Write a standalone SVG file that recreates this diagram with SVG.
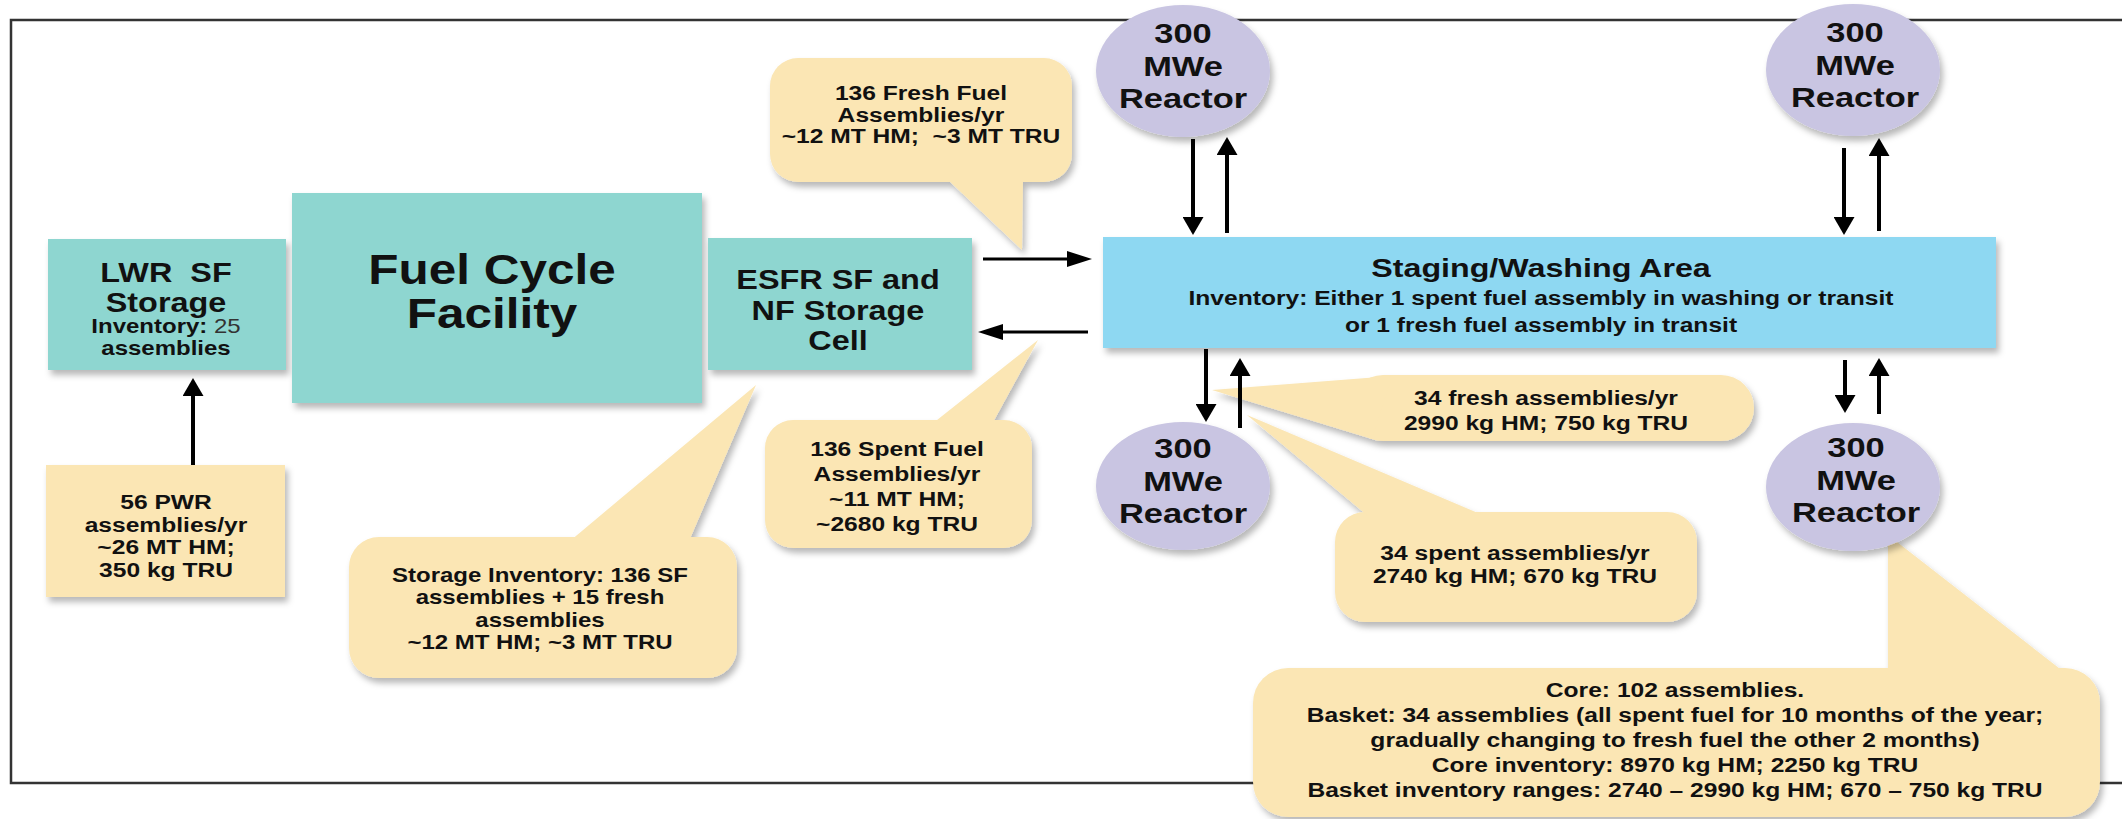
<svg xmlns="http://www.w3.org/2000/svg" width="2122" height="819" viewBox="0 0 2122 819">
<style>
.t{font-family:"Liberation Sans",Arial,Helvetica,sans-serif;font-weight:bold;fill:#111;text-anchor:middle}
.teal{fill:#8ed6d0}
.blue{fill:#8ed8f2}
.reac{fill:#c9c5e2}
.call{fill:#fbe6b4}
.frame{fill:none;stroke:#333;stroke-width:2.5}
.av{stroke:#000;stroke-width:4;fill:none;marker-end:url(#ahv)}
.ah{stroke:#000;stroke-width:3;fill:none;marker-end:url(#ahh)}
</style>
<defs>
<filter id="sh" x="-10%" y="-10%" width="125%" height="140%">
<feDropShadow dx="3" dy="5" stdDeviation="3" flood-color="#000" flood-opacity="0.28"/>
</filter>
<marker id="ahv" markerUnits="userSpaceOnUse" viewBox="0 0 18 21" markerWidth="18" markerHeight="21" refX="8" refY="10.5" orient="auto">
<path d="M0,0 L18,10.5 L0,21 Z" fill="#000"/>
</marker>
<marker id="ahh" markerUnits="userSpaceOnUse" viewBox="0 0 25 16" markerWidth="25" markerHeight="16" refX="15" refY="8" orient="auto">
<path d="M0,0 L25,8 L0,16 Z" fill="#000"/>
</marker>
</defs>
<rect width="2122" height="819" fill="#fff"/>
<path class="frame" d="M2130,20 H11 V783 H2130"/>

<g id="lwr-storage">
<rect class="teal" x="48" y="239" width="238" height="131" filter="url(#sh)"/>
<text class="t" transform="translate(166 0) scale(1.2 1)" font-size="27" xml:space="preserve"><tspan x="0" y="282">LWR  SF</tspan></text>
<text class="t" transform="translate(166 0) scale(1.2 1)" font-size="27"><tspan x="0" y="312">Storage</tspan></text>
<text class="t" transform="translate(166 0) scale(1.2 1)" font-size="20"><tspan x="0" y="333">Inventory: <tspan font-weight="normal" fill="#333">25</tspan></tspan><tspan x="0" y="355">assemblies</tspan></text>
</g>

<g id="fuel-cycle-facility">
<rect class="teal" x="292" y="193" width="410" height="210" filter="url(#sh)"/>
<text class="t" transform="translate(492 0) scale(1.15 1)" font-size="43"><tspan x="0" y="284">Fuel Cycle</tspan><tspan x="0" y="328">Facility</tspan></text>
</g>

<g id="esfr-storage">
<rect class="teal" x="708" y="238" width="264" height="132" filter="url(#sh)"/>
<text class="t" transform="translate(838 0) scale(1.2 1)" font-size="27"><tspan x="0" y="289">ESFR SF and</tspan><tspan x="0" y="320">NF Storage</tspan><tspan x="0" y="350">Cell</tspan></text>
</g>

<g id="staging-washing">
<rect class="blue" x="1103" y="237" width="893" height="111" filter="url(#sh)"/>
<text class="t" transform="translate(1541 0) scale(1.24 1)" font-size="26"><tspan x="0" y="277">Staging/Washing Area</tspan></text>
<text class="t" transform="translate(1541 0) scale(1.23 1)" font-size="20"><tspan x="0" y="305">Inventory: Either 1 spent fuel assembly in washing or transit</tspan><tspan x="0" y="332">or 1 fresh fuel assembly in transit</tspan></text>
</g>

<g id="pwr-input">
<rect class="call" x="46" y="465" width="239" height="132" filter="url(#sh)"/>
<text class="t" transform="translate(166 0) scale(1.23 1)" font-size="20"><tspan x="0" y="509">56 PWR</tspan><tspan x="0" y="532">assemblies/yr</tspan><tspan x="0" y="554">~26 MT HM;</tspan><tspan x="0" y="577">350 kg TRU</tspan></text>
</g>

<g id="callout-fresh-fuel">
<g class="call" filter="url(#sh)">
<rect x="770" y="58" width="302" height="124" rx="28"/>
<polygon points="946,178 1023,178 1022,250"/>
</g>
<text class="t" transform="translate(921 0) scale(1.23 1)" font-size="20" xml:space="preserve"><tspan x="0" y="100">136 Fresh Fuel</tspan><tspan x="0" y="122">Assemblies/yr</tspan><tspan x="0" y="143">~12 MT HM;  ~3 MT TRU</tspan></text>
</g>

<g id="callout-spent-fuel">
<g class="call" filter="url(#sh)">
<rect x="765" y="420" width="267" height="128" rx="28"/>
<polygon points="932,424 992,424 1038,340"/>
</g>
<text class="t" transform="translate(897 0) scale(1.23 1)" font-size="20"><tspan x="0" y="456">136 Spent Fuel</tspan><tspan x="0" y="481">Assemblies/yr</tspan><tspan x="0" y="506">~11 MT HM;</tspan><tspan x="0" y="531">~2680 kg TRU</tspan></text>
</g>

<g id="callout-storage-inventory">
<g class="call" filter="url(#sh)">
<rect x="349" y="537" width="388" height="141" rx="30"/>
<polygon points="570,541 689,541 756,385"/>
</g>
<text class="t" transform="translate(540 0) scale(1.2 1)" font-size="20"><tspan x="0" y="582">Storage Inventory: 136 SF</tspan><tspan x="0" y="604">assemblies + 15 fresh</tspan><tspan x="0" y="627">assemblies</tspan><tspan x="0" y="649">~12 MT HM; ~3 MT TRU</tspan></text>
</g>

<g id="callout-34-fresh">
<g class="call" filter="url(#sh)">
<rect x="1350" y="375" width="404" height="66" rx="33"/>
<polygon points="1212,390 1392,376 1372,439"/>
</g>
<text class="t" transform="translate(1546 0) scale(1.23 1)" font-size="20"><tspan x="0" y="405">34 fresh assemblies/yr</tspan><tspan x="0" y="430">2990 kg HM; 750 kg TRU</tspan></text>
</g>

<g id="callout-34-spent">
<g class="call" filter="url(#sh)">
<rect x="1335" y="512" width="362" height="110" rx="30"/>
<polygon points="1247,415 1368,516 1485,516"/>
</g>
<text class="t" transform="translate(1515 0) scale(1.23 1)" font-size="20"><tspan x="0" y="560">34 spent assemblies/yr</tspan><tspan x="0" y="583">2740 kg HM; 670 kg TRU</tspan></text>
</g>

<g id="callout-core">
<g class="call" filter="url(#sh)">
<rect x="1253" y="668" width="847" height="149" rx="35"/>
<polygon points="1888,672 1888,535 2064,672"/>
</g>
<text class="t" transform="translate(1675 0) scale(1.23 1)" font-size="20"><tspan x="0" y="697">Core: 102 assemblies.</tspan><tspan x="0" y="722">Basket: 34 assemblies (all spent fuel for 10 months of the year;</tspan><tspan x="0" y="747">gradually changing to fresh fuel the other 2 months)</tspan><tspan x="0" y="772">Core inventory: 8970 kg HM; 2250 kg TRU</tspan><tspan x="0" y="797">Basket inventory ranges: 2740 – 2990 kg HM; 670 – 750 kg TRU</tspan></text>
</g>

<g id="reactor-top-left">
<ellipse class="reac" cx="1183" cy="71" rx="87" ry="66" filter="url(#sh)"/>
<text class="t" transform="translate(1183 0) scale(1.23 1)" font-size="28"><tspan x="0" y="43">300</tspan><tspan x="0" y="76">MWe</tspan><tspan x="0" y="108">Reactor</tspan></text>
</g>

<g id="reactor-top-right">
<ellipse class="reac" cx="1853" cy="70" rx="87" ry="66" filter="url(#sh)"/>
<text class="t" transform="translate(1855 0) scale(1.23 1)" font-size="28"><tspan x="0" y="42">300</tspan><tspan x="0" y="75">MWe</tspan><tspan x="0" y="107">Reactor</tspan></text>
</g>

<g id="reactor-bottom-left">
<ellipse class="reac" cx="1183" cy="486" rx="87" ry="64" filter="url(#sh)"/>
<text class="t" transform="translate(1183 0) scale(1.23 1)" font-size="28"><tspan x="0" y="458">300</tspan><tspan x="0" y="491">MWe</tspan><tspan x="0" y="523">Reactor</tspan></text>
</g>

<g id="reactor-bottom-right">
<ellipse class="reac" cx="1853" cy="487" rx="87" ry="64" filter="url(#sh)"/>
<text class="t" transform="translate(1856 0) scale(1.23 1)" font-size="28"><tspan x="0" y="457">300</tspan><tspan x="0" y="490">MWe</tspan><tspan x="0" y="522">Reactor</tspan></text>
</g>

<g id="connectors">
<line class="av" x1="193" y1="465" x2="193" y2="388"/>
<line class="ah" x1="983" y1="259" x2="1082" y2="259"/>
<line class="ah" x1="1088" y1="332" x2="988" y2="332"/>
<line class="av" x1="1193" y1="139" x2="1193" y2="225"/>
<line class="av" x1="1227" y1="233" x2="1227" y2="147"/>
<line class="av" x1="1844" y1="148" x2="1844" y2="225"/>
<line class="av" x1="1879" y1="231" x2="1879" y2="148"/>
<line class="av" x1="1206" y1="349" x2="1206" y2="412"/>
<line class="av" x1="1240" y1="428" x2="1240" y2="368"/>
<line class="av" x1="1845" y1="360" x2="1845" y2="403"/>
<line class="av" x1="1879" y1="414" x2="1879" y2="368"/>
</g>
</svg>
